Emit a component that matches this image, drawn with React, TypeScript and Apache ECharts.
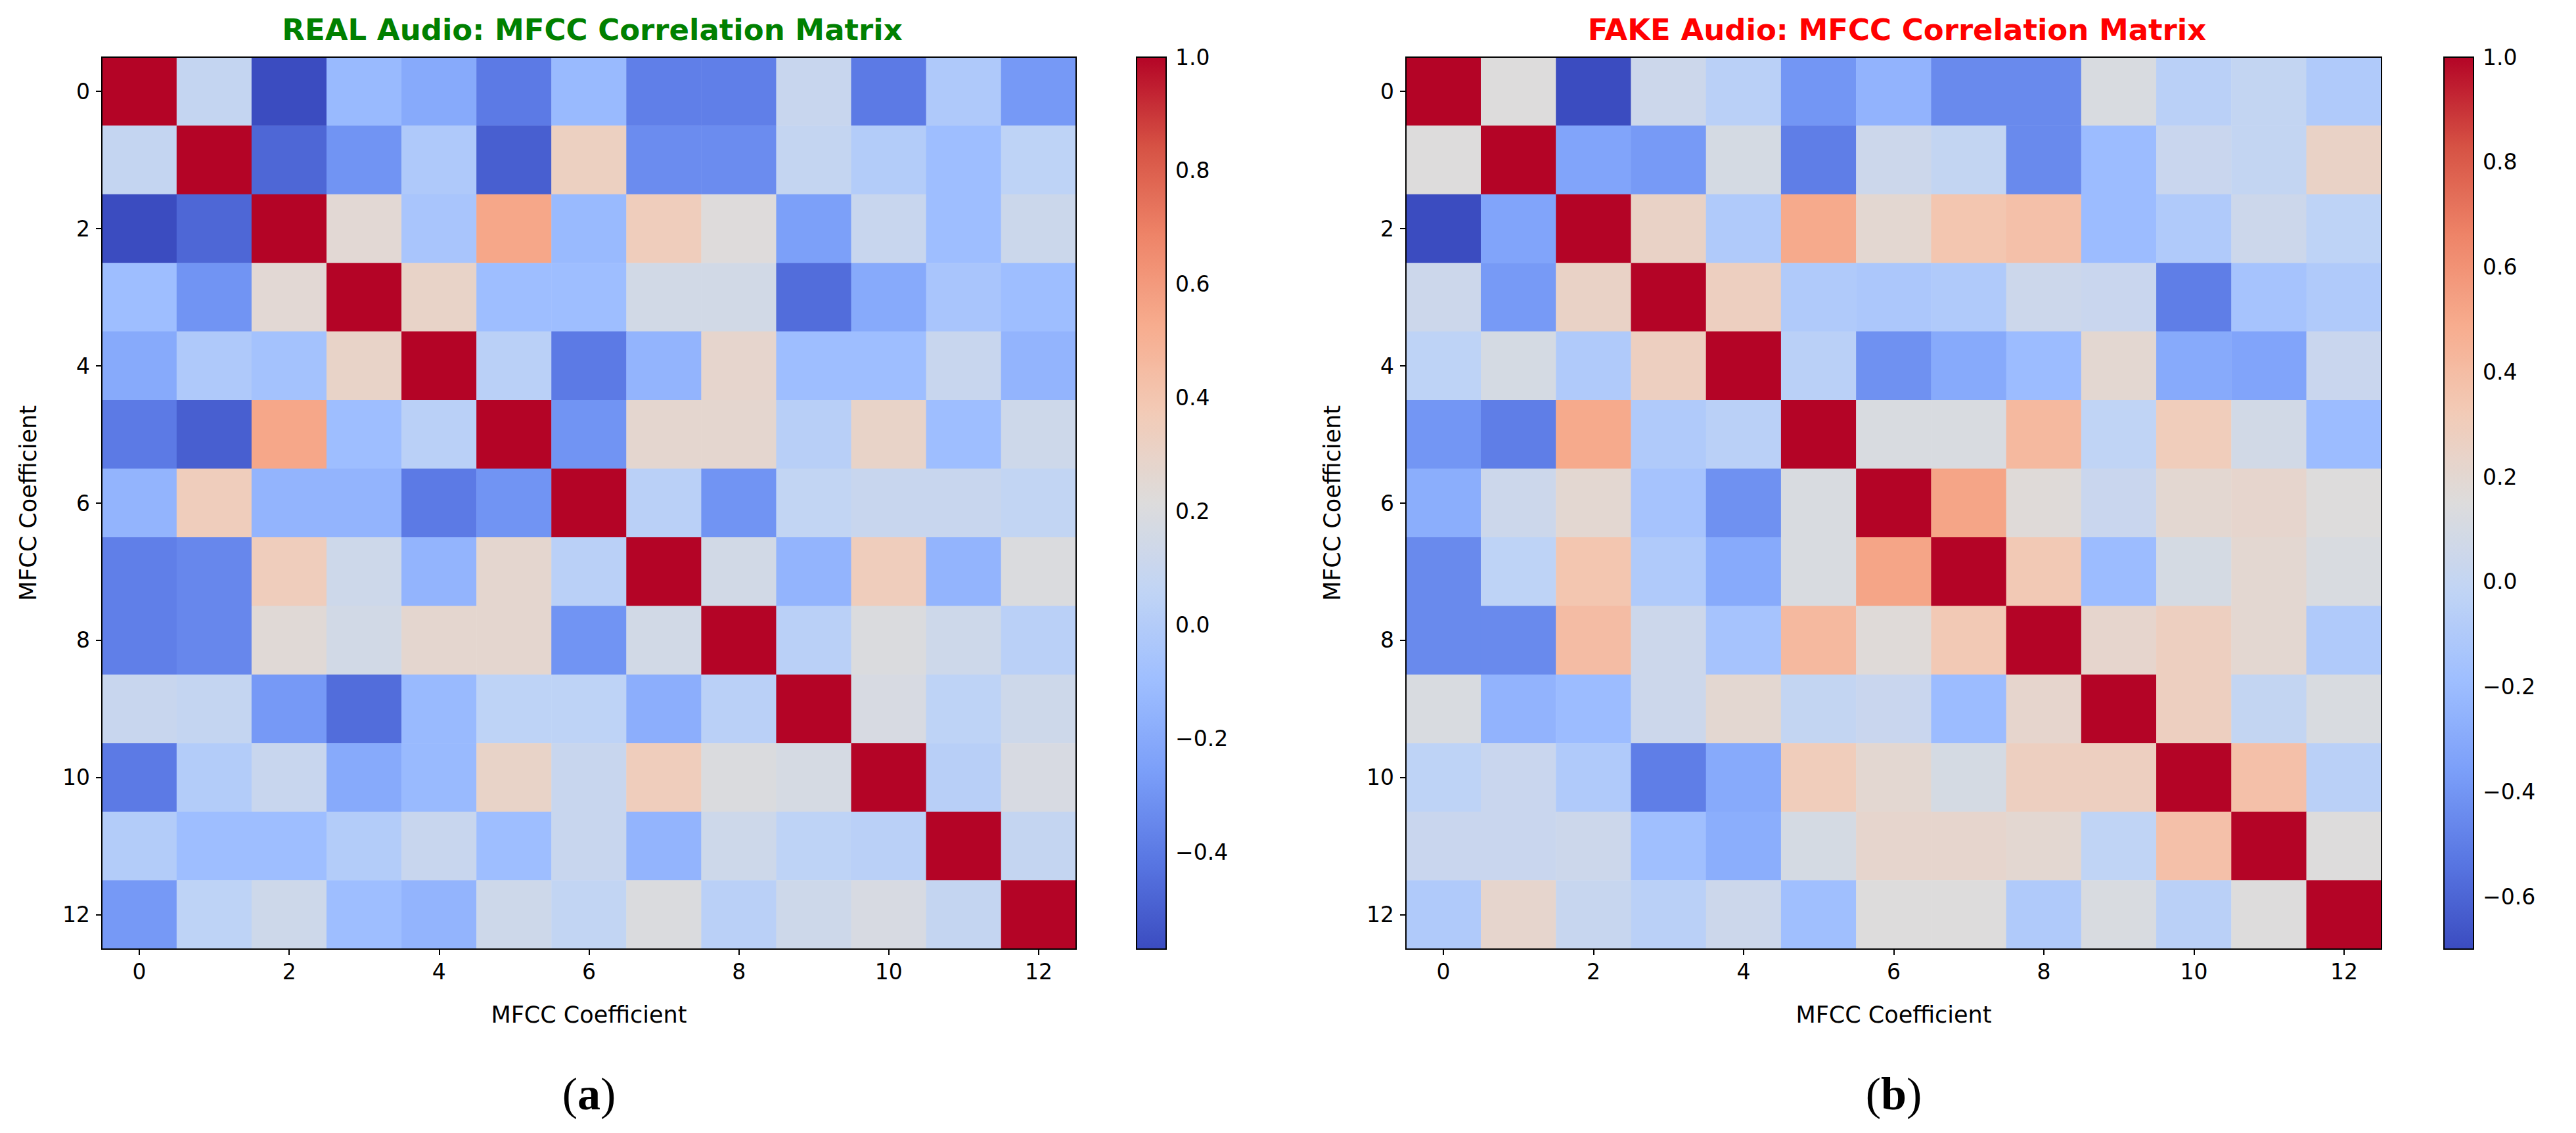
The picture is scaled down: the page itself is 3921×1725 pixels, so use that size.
import { useEffect, useRef } from 'react';
import * as echarts from 'echarts';

const coeffs = ['0', '1', '2', '3', '4', '5', '6', '7', '8', '9', '10', '11', '12'];

const realMatrix: number[][] = [
  [1, 0.08, -0.57, -0.12, -0.2, -0.4, -0.12, -0.38, -0.38, 0.1, -0.4, -0.02, -0.28],
  [0.08, 1, -0.47, -0.3, -0.02, -0.5, 0.33, -0.33, -0.33, 0.08, 0, -0.1, 0.05],
  [-0.57, -0.47, 1, 0.25, -0.05, 0.55, -0.12, 0.35, 0.22, -0.25, 0.1, -0.1, 0.12],
  [-0.1, -0.3, 0.25, 1, 0.3, -0.1, -0.1, 0.15, 0.15, -0.45, -0.2, -0.05, -0.1],
  [-0.2, -0.02, -0.07, 0.3, 1, 0.03, -0.4, -0.15, 0.28, -0.1, -0.1, 0.1, -0.15],
  [-0.4, -0.5, 0.55, -0.1, 0.03, 1, -0.3, 0.27, 0.27, 0.02, 0.3, -0.1, 0.13],
  [-0.15, 0.35, -0.15, -0.15, -0.4, -0.3, 1, 0.03, -0.3, 0.07, 0.1, 0.1, 0.07],
  [-0.38, -0.35, 0.35, 0.13, -0.15, 0.27, 0.03, 1, 0.15, -0.15, 0.35, -0.15, 0.2],
  [-0.38, -0.35, 0.24, 0.15, 0.27, 0.27, -0.3, 0.15, 1, 0.03, 0.2, 0.13, 0.03],
  [0.1, 0.08, -0.28, -0.45, -0.12, 0.05, 0.05, -0.18, 0.03, 1, 0.18, 0.05, 0.13],
  [-0.4, 0, 0.1, -0.2, -0.12, 0.3, 0.1, 0.35, 0.2, 0.17, 1, 0.02, 0.18],
  [0, -0.1, -0.1, 0, 0.1, -0.1, 0.1, -0.15, 0.13, 0.05, 0.03, 1, 0.08],
  [-0.28, 0.05, 0.13, -0.1, -0.15, 0.13, 0.07, 0.2, 0.03, 0.13, 0.18, 0.08, 1],
];

const fakeMatrix: number[][] = [
  [1, 0.15, -0.7, 0.05, -0.05, -0.4, -0.25, -0.45, -0.45, 0.12, -0.05, 0, -0.1],
  [0.15, 1, -0.33, -0.38, 0.1, -0.5, 0.05, 0, -0.45, -0.2, 0.03, 0, 0.25],
  [-0.7, -0.33, 1, 0.25, -0.1, 0.5, 0.2, 0.35, 0.38, -0.2, -0.1, 0.05, -0.03],
  [0.05, -0.38, 0.25, 1, 0.28, -0.1, -0.12, -0.1, 0.05, 0.03, -0.5, -0.15, -0.1],
  [-0.03, 0.1, -0.1, 0.28, 1, -0.05, -0.42, -0.3, -0.2, 0.2, -0.3, -0.33, 0.03],
  [-0.4, -0.5, 0.5, -0.1, -0.05, 1, 0.12, 0.12, 0.42, -0.02, 0.3, 0.08, -0.2],
  [-0.28, 0.05, 0.2, -0.15, -0.42, 0.12, 1, 0.52, 0.17, 0.03, 0.2, 0.22, 0.15],
  [-0.45, -0.03, 0.35, -0.1, -0.3, 0.12, 0.52, 1, 0.33, -0.2, 0.1, 0.2, 0.12],
  [-0.45, -0.45, 0.4, 0.05, -0.15, 0.42, 0.17, 0.33, 1, 0.22, 0.28, 0.2, -0.1],
  [0.12, -0.25, -0.2, 0.05, 0.2, 0, 0.03, -0.2, 0.22, 1, 0.28, 0, 0.12],
  [-0.03, 0.03, -0.1, -0.5, -0.3, 0.3, 0.2, 0.1, 0.28, 0.28, 1, 0.38, -0.05],
  [0.03, 0.03, 0.05, -0.18, -0.28, 0.1, 0.22, 0.22, 0.2, -0.02, 0.38, 1, 0.15],
  [-0.1, 0.22, 0.02, -0.05, 0.05, -0.18, 0.15, 0.15, -0.1, 0.12, -0.05, 0.15, 1],
];

const realMin = -0.57;
const fakeMin = -0.7;
const cbTicks = [-0.6, -0.4, -0.2, 0, 0.2, 0.4, 0.6, 0.8, 1.0];

const COOLWARM = [
  '#3b4cc0', '#5977e3', '#7b9ff9', '#9ebeff', '#c0d4f5', '#dddcdc',
  '#f2cbb7', '#f7ac8e', '#ee8468', '#d65244', '#b40426',
];

const FONT = 'DejaVu Sans';
const TOP = 87;
const H = 1358;

const toData = (m: number[][]) =>
  m.flatMap((row, r) => row.map((v, c) => [c, r, v]));

export default function App() {
  const ref = useRef<HTMLDivElement>(null);

  useEffect(() => {
    if (!ref.current) return;
    const chart = echarts.init(ref.current, undefined, { renderer: 'svg' });

    const panels = [
      { left: 155, width: 1483, cbLeft: 1730, min: realMin, data: realMatrix, title: 'REAL Audio: MFCC Correlation Matrix', color: '#008000', cap: 'a' },
      { left: 2140, width: 1485, cbLeft: 3720, min: fakeMin, data: fakeMatrix, title: 'FAKE Audio: MFCC Correlation Matrix', color: '#ff0000', cap: 'b' },
    ];

    const grid: any[] = [];
    const xAxis: any[] = [];
    const yAxis: any[] = [];
    const series: any[] = [];
    const visualMap: any[] = [];
    const title: any[] = [];
    const graphic: any[] = [];

    panels.forEach((p, i) => {
      const ticks = cbTicks.filter((v) => v >= p.min);
      grid.push({ left: p.left, top: TOP, width: p.width, height: H, show: true, borderColor: '#000', borderWidth: 2, backgroundColor: 'transparent', z: 10 });
      grid.push({ left: p.cbLeft, top: TOP, width: 45, height: H, show: true, borderColor: '#000', borderWidth: 2, backgroundColor: 'transparent', z: 10 });
      const tickLabel = { fontFamily: FONT, fontSize: 33, color: '#000' };
      const tick = { show: true, alignWithLabel: true, interval: 1, length: 9, lineStyle: { color: '#000', width: 2 } };
      xAxis.push({
        type: 'category', gridIndex: i * 2, data: coeffs, position: 'bottom',
        name: 'MFCC Coefficient', nameLocation: 'middle', nameGap: 82,
        nameTextStyle: { fontFamily: FONT, fontSize: 35, color: '#000' },
        axisLine: { show: false }, axisTick: tick,
        axisLabel: { ...tickLabel, interval: 1, margin: 18 },
        splitLine: { show: false },
      });
      yAxis.push({
        type: 'category', gridIndex: i * 2, data: coeffs, inverse: true,
        name: 'MFCC Coefficient', nameLocation: 'middle', nameGap: 95, nameRotate: 90,
        nameTextStyle: { fontFamily: FONT, fontSize: 35, color: '#000' },
        axisLine: { show: false }, axisTick: tick,
        axisLabel: { ...tickLabel, interval: 1, margin: 18 },
        splitLine: { show: false },
      });
      xAxis.push({ type: 'value', gridIndex: i * 2 + 1, show: false, min: 0, max: 1 });
      yAxis.push({
        type: 'value', gridIndex: i * 2 + 1, position: 'right', min: p.min, max: 1,
        axisLine: { show: false },
        axisTick: { show: true, length: 9, lineStyle: { color: '#000', width: 2 }, customValues: ticks },
        axisLabel: {
          ...tickLabel, margin: 14, customValues: ticks,
          formatter: (v: number) => (v < 0 ? '\u2212' + Math.abs(v).toFixed(1) : v.toFixed(1)),
        },
        splitLine: { show: false },
      });
      series.push({
        type: 'heatmap', xAxisIndex: i * 2, yAxisIndex: i * 2, data: toData(p.data),
        itemStyle: { borderWidth: 0 }, emphasis: { disabled: true },
      });
      visualMap.push({
        type: 'continuous', seriesIndex: i, min: p.min, max: 1, calculable: false,
        left: p.cbLeft, top: TOP, itemWidth: 45, itemHeight: H, padding: 0,
        text: ['', ''], showLabel: false, inRange: { color: COOLWARM },
        handleStyle: { opacity: 0 }, indicatorStyle: { opacity: 0 }, hoverLink: false,
      });
      title.push({
        text: p.title, left: p.left + p.width / 2, textAlign: 'center', top: 18,
        textStyle: { fontFamily: FONT, fontSize: 45, fontWeight: 'bold', color: p.color },
      });
      graphic.push({
        type: 'text', x: p.left + p.width / 2, y: 1665,
        style: {
          text: '{n|(}{b|' + p.cap + '}{n|)}',
          rich: {
            n: { fontFamily: 'Liberation Serif', fontSize: 70, fill: '#000' },
            b: { fontFamily: 'Liberation Serif', fontSize: 70, fontWeight: 'bold', fill: '#000' },
          },
          align: 'center', verticalAlign: 'middle',
        },
      });
    });

    chart.setOption({ animation: false, grid, xAxis, yAxis, series, visualMap, title, graphic });
    return () => chart.dispose();
  }, []);

  return <div ref={ref} style={{ position: 'fixed', left: 0, top: 0, width: 3921, height: 1725, background: '#fff' }} />;
}
